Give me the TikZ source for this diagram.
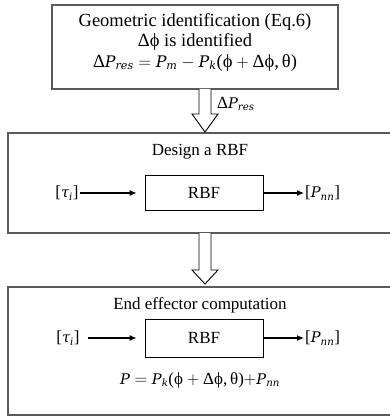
\documentclass[tikz,border=0pt]{standalone}
\usepackage{amsmath}
\usepackage{fontspec}
\setmainfont{Liberation Serif}
\newfontfamily\varfont{DejaVu Serif}[Scale=0.86]
\usetikzlibrary{arrows.meta}
% upright symbols and italic variables taken from text fonts
\newcommand\gr[1]{\text{\rmfamily\upshape #1}}
\newcommand\mv[1]{\text{\varfont\itshape #1}}
\definecolor{frame}{HTML}{5A5A5A}
\tikzset{
  stage/.style={draw=frame, line width=1.6pt, inner sep=0pt},
  rbfbox/.style={draw=black, line width=0.9pt, minimum width=118pt, minimum height=35pt, inner sep=0pt},
  sig/.style={inner sep=1pt},
  flow/.style={-{Latex[length=7pt,width=6pt]}, line width=1.1pt},
  bigarrow/.style={draw=black, line width=0.9pt, fill=white, line join=miter},
}
\begin{document}
\begin{tikzpicture}[x=1pt,y=-1pt,font=\fontsize{17}{20.5}\selectfont]
\useasboundingbox (0,0) rectangle (390,417);
\clip (0,0) rectangle (390,417);

% stage frames
\node[stage, minimum width=286pt, minimum height=84pt] (geo) at (195,47) {};
\node[stage, minimum width=384pt, minimum height=100pt] (design) at (200,183) {};
\node[stage, minimum width=384pt, minimum height=128pt] (endeff) at (200,351) {};

% stage 1 text
\node[align=center, font=\fontsize{18.5}{20.5}\selectfont] (geotxt) at (195,42) {Geometric identification (Eq.6)\\
  $\gr{Δϕ}$ is identified\\
  $\gr{Δ}\mv{P}_{\mv{res}}=\mv{P}_{\mv{m}}-\mv{P}_{\mv{k}}\gr{(ϕ}+\gr{Δϕ,\,θ)}$};

% hollow arrow between stage 1 and 2
\draw[bigarrow] (199,89) -- (199,114) -- (192,114) -- (205,132) -- (218,114) -- (211,114) -- (211,89);
\node[anchor=west, inner sep=1pt] (dpres) at (216,104) {$\gr{Δ}\mv{P}_{\mv{res}}$};

% stage 2
\node (designtitle) at (200,152) {Design a RBF};
\node[rbfbox] (rbf1) at (204,193) {RBF};
\node[sig] (tau1) at (67,193) {$\gr{[}\mv{τ}_{\mv{i}}\gr{]}$};
\node[sig, anchor=west] (pnn1) at (304,193) {$\gr{[}\mv{P}_{\mv{nn}}\gr{]}$};
\draw[flow] (tau1.east) -- ([xshift=-8pt]rbf1.west);
\draw[flow] (rbf1.east) -- (pnn1.west);

% hollow arrow between stage 2 and 3
\draw[bigarrow] (199,233) -- (199,270) -- (192,270) -- (205,284) -- (218,270) -- (211,270) -- (211,233);

% stage 3
\node (endtitle) at (200,305) {End effector computation};
\node[rbfbox, minimum height=38pt] (rbf2) at (204,338) {RBF};
\node[sig] (tau2) at (68,338) {$\gr{[}\mv{τ}_{\mv{i}}\gr{]}$};
\node[sig, anchor=west] (pnn2) at (304,338) {$\gr{[}\mv{P}_{\mv{nn}}\gr{]}$};
\draw[flow, shorten <=7pt] (tau2.east) -- ([xshift=-8pt]rbf2.west);
\draw[flow] (rbf2.east) -- (pnn2.west);
\node (sum) at (200,380) {$\mv{P}=\mv{P}_{\mv{k}}\gr{(ϕ}+\gr{Δϕ,\,θ)}{+}\mv{P}_{\mv{nn}}$};
\end{tikzpicture}
\end{document}
